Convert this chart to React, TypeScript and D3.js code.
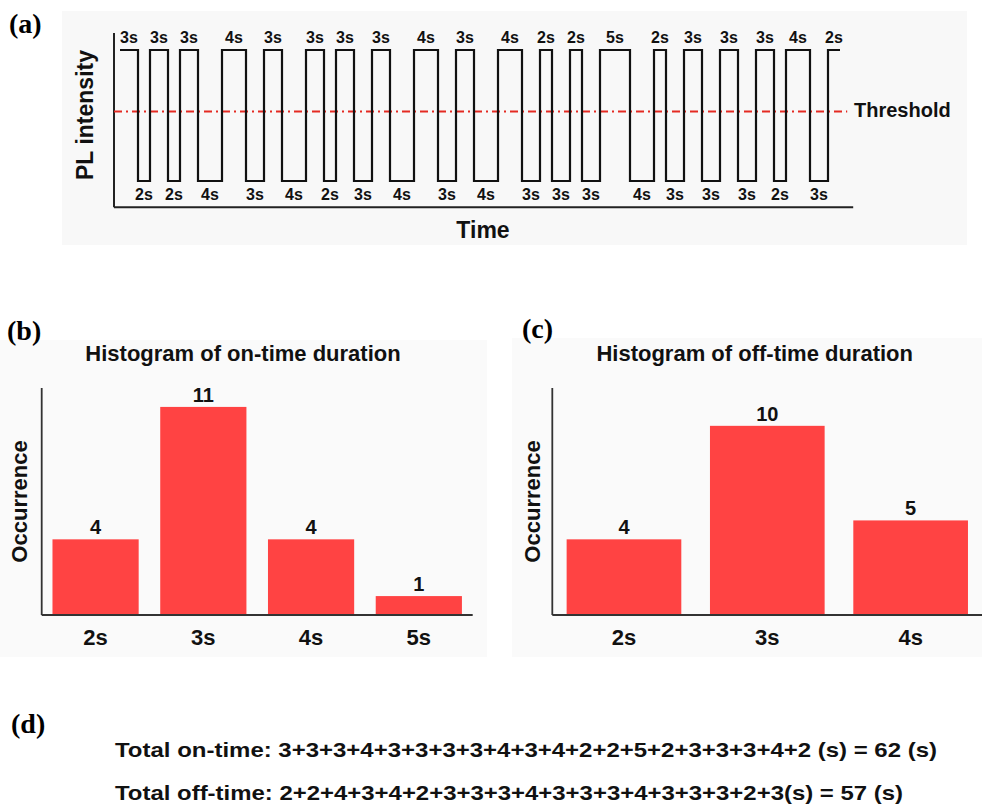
import React from 'react';
import * as d3 from 'd3';

// on / off durations in (a), in seconds
const onTimes = [3, 3, 3, 4, 3, 3, 3, 3, 4, 3, 4, 2, 2, 5, 2, 3, 3, 3, 4, 2];
const offTimes = [2, 2, 4, 3, 4, 2, 3, 4, 3, 4, 3, 3, 3, 4, 3, 3, 3, 2, 3];
const thresholdLevel = 0.53;

// histograms
const onBins = ['2s', '3s', '4s', '5s'];
const onCounts = [4, 11, 4, 1];
const offBins = ['2s', '3s', '4s'];
const offCounts = [4, 10, 5];

const onSumText = 'Total on-time: 3+3+3+4+3+3+3+3+4+3+4+2+2+5+2+3+3+3+4+2 (s) = 62 (s)';
const offSumText = 'Total off-time: 2+2+4+3+4+2+3+3+3+4+3+3+3+4+3+3+3+2+3(s) = 57 (s)';

const SANS = '"Liberation Sans", Arial, Helvetica, sans-serif';
const SERIF = '"Liberation Serif", "Times New Roman", serif';
const BAR = '#ff4343';
const INK = '#111';

// build the on/off segments in time order
const segments: { start: number; dur: number; on: boolean }[] = [];
{
  let t = 0;
  onTimes.forEach((d, i) => {
    segments.push({ start: t, dur: d, on: true });
    t += d;
    if (i < offTimes.length) {
      segments.push({ start: t, dur: offTimes[i], on: false });
      t += offTimes[i];
    }
  });
}
const totalTime = d3.sum(segments, (s) => s.dur);

function TracePanel() {
  const x = d3.scaleLinear().domain([0, totalTime]).range([120, 840]);
  const y = d3.scaleLinear().domain([0, 1]).range([181, 50]);

  const pts: [number, number][] = segments.map((s) => [s.start, s.on ? 1 : 0]);
  const last = segments[segments.length - 1];
  pts.push([last.start + last.dur, last.on ? 1 : 0]);
  const line = d3
    .line<[number, number]>()
    .x((d) => x(d[0]))
    .y((d) => y(d[1]))
    .curve(d3.curveStepAfter);

  const axisY = y(-0.2);
  return (
    <g>
      <rect x={62} y={11} width={905} height={234} fill="#f8f8f8" />
      <text x={9} y={33} fontFamily={SERIF} fontWeight="bold" fontSize={28}>(a)</text>
      {/* axes */}
      <line x1={x(-1)} x2={x(-1)} y1={y(1.13)} y2={axisY} stroke="#222" strokeWidth={2} />
      <line x1={x(-1)} x2={x(totalTime + 2.2)} y1={axisY} y2={axisY} stroke="#222" strokeWidth={2} />
      {/* threshold */}
      <line
        x1={x(-1)}
        x2={x(totalTime + 1.2)}
        y1={y(thresholdLevel)}
        y2={y(thresholdLevel)}
        stroke="#e42a22"
        strokeWidth={2}
        strokeDasharray="8,4,2,4"
      />
      <path d={line(pts) ?? ''} fill="none" stroke={INK} strokeWidth={2.2} />
      {segments.map((s, i) => (
        <text
          key={i}
          x={x(s.start + s.dur / 2)}
          y={s.on ? 42.5 : 200}
          textAnchor="middle"
          fontFamily={SANS}
          fontWeight="bold"
          fontSize={16}
          fill={INK}
        >
          {s.dur}s
        </text>
      ))}
      <text x={854} y={117} fontFamily={SANS} fontWeight="bold" fontSize={20} fill={INK}>
        Threshold
      </text>
      <text x={483} y={238} textAnchor="middle" fontFamily={SANS} fontWeight="bold" fontSize={23} fill={INK}>
        Time
      </text>
      <text
        transform="translate(93,115) rotate(-90)"
        textAnchor="middle"
        fontFamily={SANS}
        fontWeight="bold"
        fontSize={23}
        fill={INK}
      >
        PL intensity
      </text>
    </g>
  );
}

type HistProps = {
  bins: string[];
  counts: number[];
  left: number;
  right: number;
  title: string;
  titleX: number;
  ylabelX: number;
  tag: string;
  tagX: number;
  tagY: number;
  bg: [number, number, number, number];
};

function Histogram({ bins, counts, left, right, title, titleX, ylabelX, tag, tagX, tagY, bg }: HistProps) {
  const y = d3.scaleLinear().domain([0, 12]).range([615, 388]);
  const x = d3.scaleBand().domain(bins).range([left, right]).paddingInner(0.2).paddingOuter(0.1);
  return (
    <g>
      <rect x={bg[0]} y={bg[1]} width={bg[2]} height={bg[3]} fill="#fafafa" />
      <text x={tagX} y={tagY} fontFamily={SERIF} fontWeight="bold" fontSize={28}>{tag}</text>
      <text x={titleX} y={361} textAnchor="middle" fontFamily={SANS} fontWeight="bold" fontSize={22} fill={INK}>
        {title}
      </text>
      {bins.map((b, i) => (
        <g key={b}>
          <rect x={x(b)} y={y(counts[i])} width={x.bandwidth()} height={y(0) - y(counts[i])} fill={BAR} />
          <text
            x={(x(b) ?? 0) + x.bandwidth() / 2}
            y={y(counts[i]) - 5}
            textAnchor="middle"
            fontFamily={SANS}
            fontWeight="bold"
            fontSize={20}
            fill={INK}
          >
            {counts[i]}
          </text>
          <text
            x={(x(b) ?? 0) + x.bandwidth() / 2}
            y={y(0) + 30}
            textAnchor="middle"
            fontFamily={SANS}
            fontWeight="bold"
            fontSize={22}
            fill={INK}
          >
            {b}
          </text>
        </g>
      ))}
      <line x1={left} x2={left} y1={y(12)} y2={y(0)} stroke="#333" strokeWidth={1.8} />
      <line x1={left} x2={right} y1={y(0)} y2={y(0)} stroke="#333" strokeWidth={1.8} />
      <text
        transform={`translate(${ylabelX},${(y(0) + y(12)) / 2}) rotate(-90)`}
        textAnchor="middle"
        fontFamily={SANS}
        fontWeight="bold"
        fontSize={22}
        fill={INK}
      >
        Occurrence
      </text>
    </g>
  );
}

export default function App() {
  return (
    <svg
      width={982}
      height={808}
      style={{ position: 'absolute', left: 0, top: 0, background: '#fff' }}
    >
      <TracePanel />
      <Histogram
        bins={onBins}
        counts={onCounts}
        left={41.7}
        right={472.7}
        title="Histogram of on-time duration"
        titleX={243}
        ylabelX={27}
        tag="(b)"
        tagX={7}
        tagY={340}
        bg={[0, 340, 487, 317]}
      />
      <Histogram
        bins={offBins}
        counts={offCounts}
        left={552.3}
        right={982.3}
        title="Histogram of off-time duration"
        titleX={754.7}
        ylabelX={540}
        tag="(c)"
        tagX={522}
        tagY={338}
        bg={[512, 338, 470, 319]}
      />
      <text x={11} y={733} fontFamily={SERIF} fontWeight="bold" fontSize={28}>(d)</text>
      <text
        x={115}
        y={757}
        fontFamily={SANS}
        fontWeight="bold"
        fontSize={21}
        fill={INK}
        textLength={822}
        lengthAdjust="spacingAndGlyphs"
      >
        {onSumText}
      </text>
      <text
        x={115}
        y={800}
        fontFamily={SANS}
        fontWeight="bold"
        fontSize={21}
        fill={INK}
        textLength={788}
        lengthAdjust="spacingAndGlyphs"
      >
        {offSumText}
      </text>
    </svg>
  );
}
